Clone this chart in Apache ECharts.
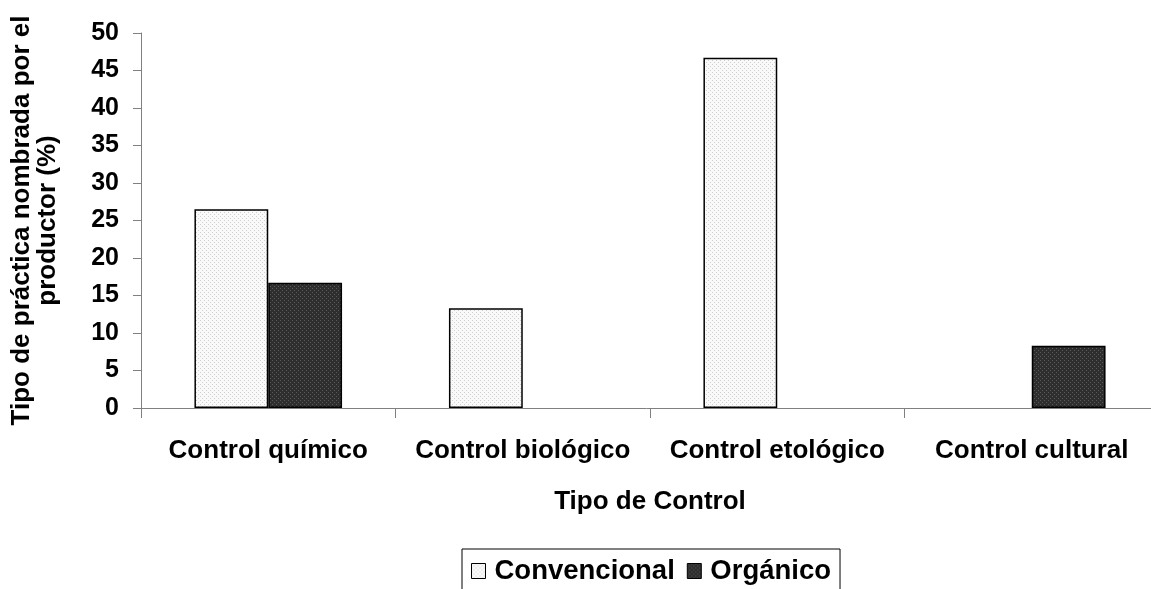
<!DOCTYPE html>
<html>
<head>
<meta charset="utf-8">
<script src="https://cdn.jsdelivr.net/npm/echarts@6/dist/echarts.min.js"></script>
<style>
html,body{margin:0;padding:0;background:#fff;}
#chart{width:1151px;height:589px;}
</style>
</head>
<body>
<div id="chart"></div>
<script>
var categories = ['Control químico', 'Control biológico', 'Control etológico', 'Control cultural'];
var seriesNames = ['Convencional', 'Orgánico'];
var convencional = [26.5, 13.3, 46.7, 0];
var organico = [16.7, 0, 0, 8.3];
var yTicks = [0, 5, 10, 15, 20, 25, 30, 35, 40, 45, 50];

function makePattern(bg, dot) {
  var c = document.createElement('canvas');
  c.width = 4; c.height = 4;
  var ctx = c.getContext('2d');
  ctx.fillStyle = bg; ctx.fillRect(0, 0, 4, 4);
  ctx.fillStyle = dot;
  ctx.fillRect(0, 0, 1, 1);
  ctx.fillRect(2, 2, 1, 1);
  return { image: c, repeat: 'repeat' };
}
var lightFill = makePattern('#f9f9f9', '#cfcfcf');
var darkFill = makePattern('#2e2e2e', '#5a5a5a');
function hideZero(arr) { return arr.map(function (v) { return v === 0 ? '-' : v; }); }

var font = 'Arial, "Liberation Sans", sans-serif';
var chart = echarts.init(document.getElementById('chart'), null, {renderer: 'canvas'});
chart.setOption({
  animation: false,
  backgroundColor: '#ffffff',
  grid: { left: 141, top: 33, width: 1018, height: 375, containLabel: false, outerBoundsMode: 'none' },
  legend: {
    data: seriesNames,
    left: 462, top: 549,
    padding: [8, 9, 8, 9],
    borderColor: '#000', borderWidth: 1,
    itemWidth: 14, itemHeight: 15, itemGap: 12,
    icon: 'rect',
    itemStyle: { borderColor: '#000', borderWidth: 1 },
    textStyle: { fontFamily: font, fontWeight: 'bold', fontSize: 27.5, color: '#000', padding: [0, 0, 0, 4] }
  },
  xAxis: {
    type: 'category',
    data: categories,
    name: 'Tipo de Control',
    nameLocation: 'middle',
    nameGap: 81,
    nameTextStyle: { fontFamily: font, fontWeight: 'bold', fontSize: 26, color: '#000' },
    axisLine: { lineStyle: { color: '#808080', width: 1 } },
    axisTick: { show: true, length: 10, alignWithLabel: false, lineStyle: { color: '#808080' } },
    axisLabel: { margin: 30, fontFamily: font, fontWeight: 'bold', fontSize: 26, color: '#000', interval: 0 },
    splitLine: { show: false }
  },
  yAxis: {
    type: 'value',
    min: yTicks[0], max: yTicks[yTicks.length - 1], interval: 5,
    name: 'Tipo de práctica nombrada por el\nproductor (%)',
    nameLocation: 'middle',
    nameGap: 80,
    nameRotate: 90,
    nameTextStyle: { fontFamily: font, fontWeight: 'bold', fontSize: 26, color: '#000', lineHeight: 26, align: 'center' },
    axisLine: { show: true, lineStyle: { color: '#808080', width: 1 } },
    axisTick: { show: true, length: 8, lineStyle: { color: '#808080' } },
    axisLabel: { margin: 22, fontFamily: font, fontWeight: 'bold', fontSize: 25, color: '#000' },
    splitLine: { show: false }
  },
  series: [
    {
      name: seriesNames[0], type: 'bar', data: hideZero(convencional),
      barGap: '0%', barCategoryGap: '42%',
      itemStyle: { color: lightFill, borderColor: '#000', borderWidth: 1.5 }
    },
    {
      name: seriesNames[1], type: 'bar', data: hideZero(organico),
      barGap: '0%', barCategoryGap: '42%',
      itemStyle: { color: darkFill, borderColor: '#000', borderWidth: 1.5 }
    }
  ]
});
</script>
</body>
</html>
